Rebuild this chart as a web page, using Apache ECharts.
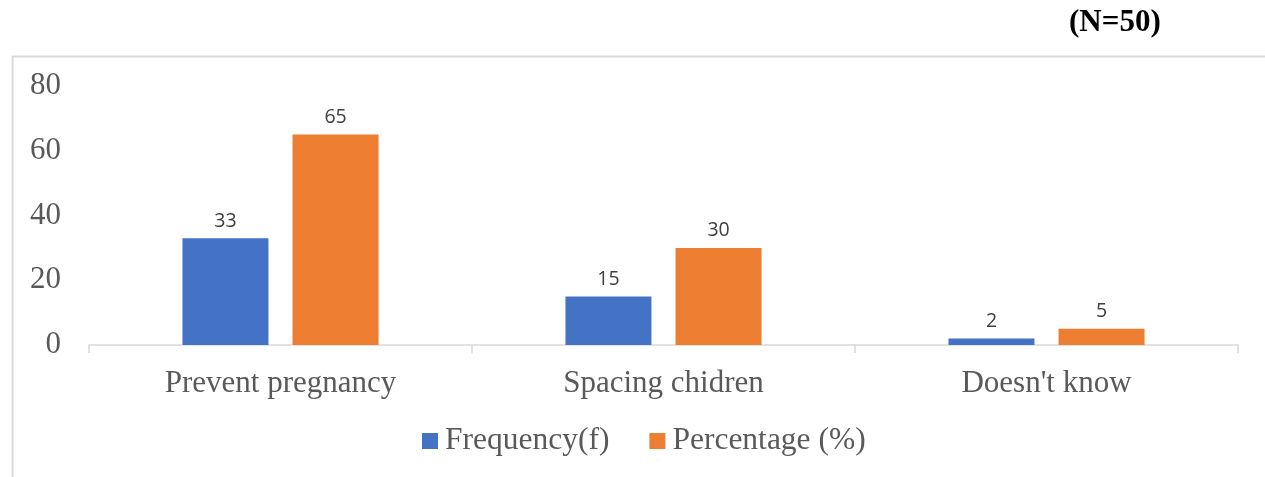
<!DOCTYPE html>
<html>
<head>
<meta charset="utf-8">
<script src="https://cdn.jsdelivr.net/npm/echarts@6/dist/echarts.min.js"></script>
<style>
html,body{margin:0;padding:0;background:#fff;}
#c{width:1265px;height:477px;}
</style>
</head>
<body>
<div id="c"></div>
<script>
const categories = ["Prevent pregnancy", "Spacing chidren", "Doesn't know"];
const frequency = [33, 15, 2];
const percentage = [65, 30, 5];
const yTicks = [0, 20, 40, 60, 80];
const seriesNames = ["Frequency(f)", "Percentage (%)"];

const chart = echarts.init(document.getElementById('c'), null, {renderer: 'canvas'});
const serif = '"Liberation Serif", "Times New Roman", serif';
const labelStyle = {show: true, position: 'top', distance: 7, color: '#404040', fontSize: 19.5, fontFamily: '"Open Sans", "Noto Sans", sans-serif'};
chart.setOption({
  animation: false,
  graphic: [
    {type: 'rect', shape: {x: 12.5, y: 56.5, width: 1300, height: 500}, style: {fill: 'none', stroke: '#d9d9d9', lineWidth: 2}, silent: true, z: -1},
    {type: 'text', left: 1069, top: 7, style: {text: '(N=50)', font: 'bold 31px "Liberation Serif", serif', fill: '#000'}}
  ],
  grid: {left: 89, right: 27, top: 86, bottom: 132},
  legend: {
    data: seriesNames, bottom: 15, left: 417, itemWidth: 16, itemHeight: 16, itemGap: 40, icon: 'rect',
    textStyle: {fontFamily: serif, fontSize: 31.5, color: '#595959', padding: [0, 0, 0, 2]}
  },
  xAxis: {
    type: 'category', data: categories,
    axisLine: {lineStyle: {color: '#d9d9d9', width: 1.5}},
    axisTick: {show: true, length: 8, lineStyle: {color: '#d9d9d9', width: 1.5}},
    axisLabel: {fontFamily: serif, fontSize: 31, color: '#595959', margin: 23}
  },
  yAxis: {
    type: 'value', min: 0, max: 80, interval: 20,
    axisLine: {show: false}, axisTick: {show: false}, splitLine: {show: false},
    axisLabel: {fontFamily: serif, fontSize: 31, color: '#595959', margin: 28,
      formatter: v => yTicks.includes(v) ? String(v) : ''}
  },
  series: [
    {name: seriesNames[0], type: 'bar', data: frequency, barWidth: 86, barGap: '28%', itemStyle: {color: '#4472c4'}, label: labelStyle},
    {name: seriesNames[1], type: 'bar', data: percentage, barWidth: 86, itemStyle: {color: '#ed7d31'}, label: labelStyle}
  ]
});
</script>
</body>
</html>
